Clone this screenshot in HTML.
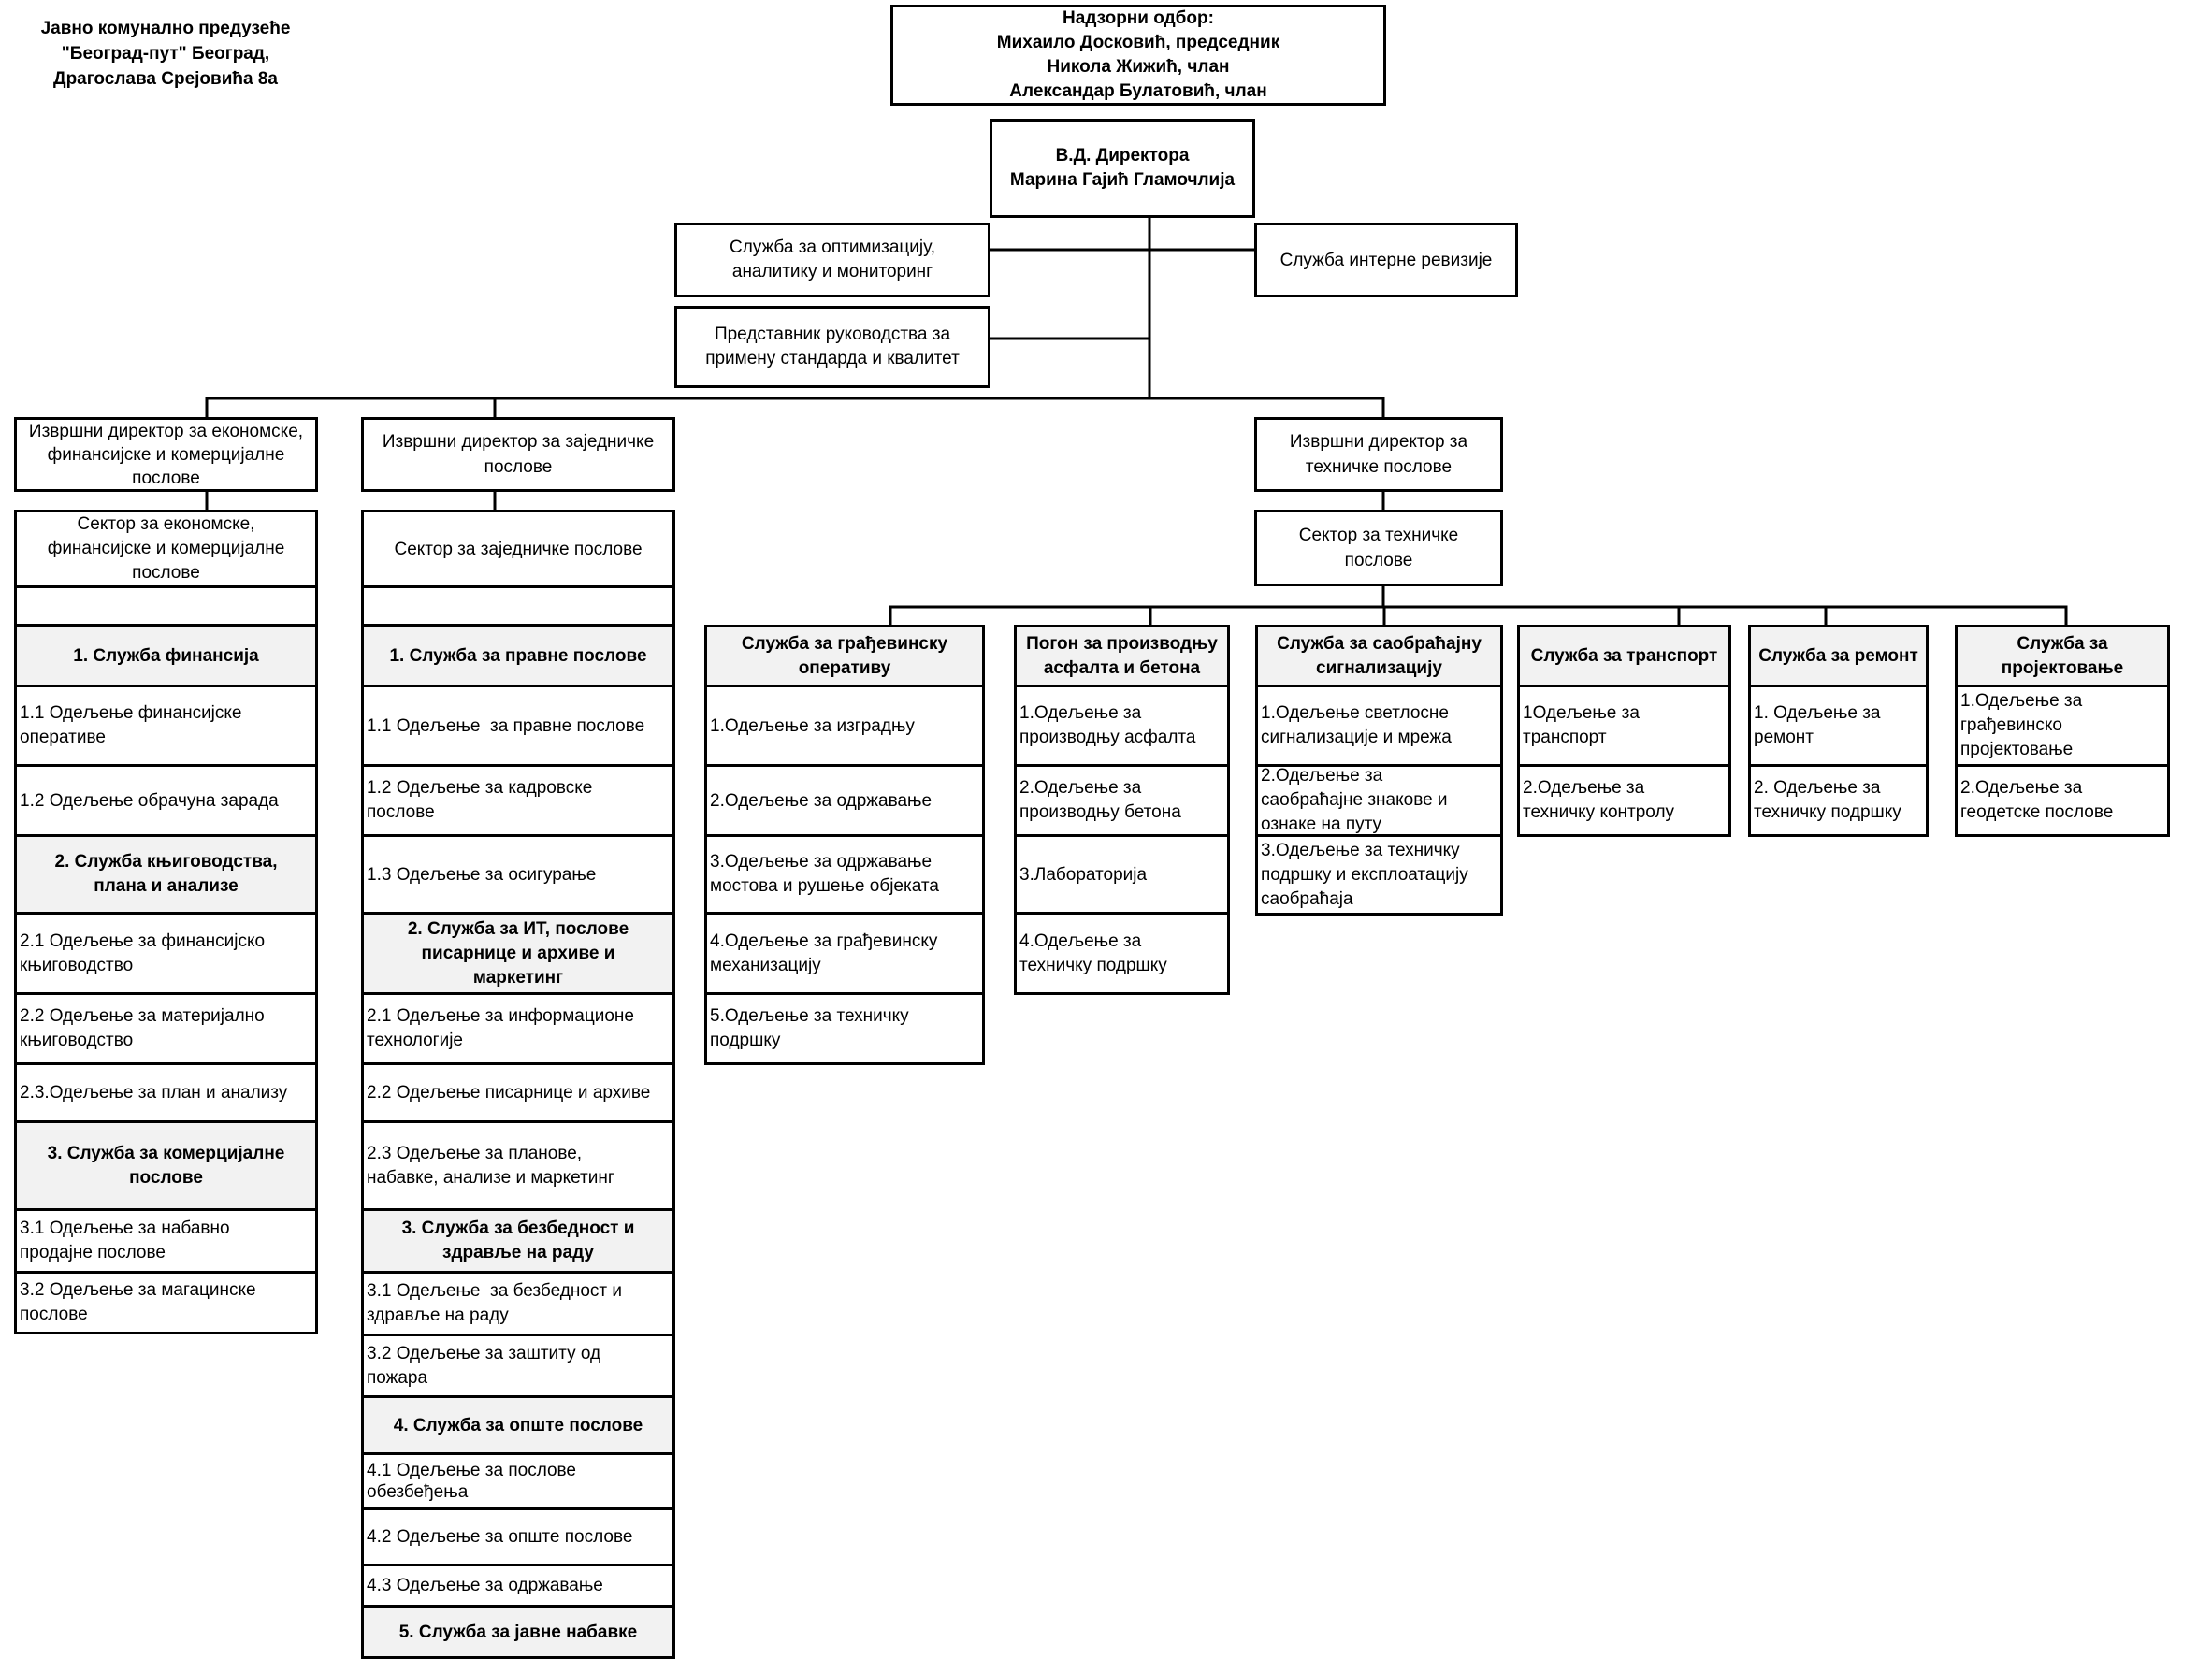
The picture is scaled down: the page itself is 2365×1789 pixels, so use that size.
<!DOCTYPE html>
<html><head><meta charset="utf-8">
<style>
html,body{margin:0;padding:0;background:#fff;}
body{width:2365px;height:1789px;position:relative;overflow:hidden;font-family:"Liberation Sans",Arial,sans-serif;color:#000;}
.b{position:absolute;box-sizing:border-box;border:3px solid #000;display:flex;align-items:center;justify-content:center;text-align:center;font-size:19px;line-height:25px;background:#fff;overflow:visible;}
.l{justify-content:flex-start;text-align:left;padding-left:3px;}
.g{background:#f2f2f2;font-weight:bold;}
.bold{font-weight:bold;}
.t{position:absolute;font-weight:bold;font-size:19px;line-height:27px;text-align:center;}
svg{position:absolute;left:0;top:0;}
</style></head><body>
<svg width="2365" height="1789"><g stroke="#000" stroke-width="3" fill="none">
<path d="M1229 232V426M1058 267H1341M1058 362H1229M219.5 426H1480.5"/>
<path d="M221 426V446M529 426V446M1479 426V446M221 525V545M529 525V545M1479 525V545M1479 626V649"/>
<path d="M950.5 649H2210.5M952 649V668M1230 649V668M1480 649V668M1795 649V668M1952 649V668M2209 649V668"/>
</g></svg>

<div class="t" style="left:27px;top:17px;width:300px;">Јавно комунално предузеће<br>"Београд-пут" Београд,<br>Драгослава Срејовића 8а</div>

<div class="b bold" style="left:952px;top:5px;width:530px;height:108px;line-height:26px;">Надзорни одбор:<br>Михаило Досковић, председник<br>Никола Жижић, члан<br>Александар Булатовић, члан</div>
<div class="b bold" style="left:1058px;top:127px;width:284px;height:106px;line-height:26px;">В.Д. Директора<br>Марина Гајић Гламочлија</div>
<div class="b" style="left:721px;top:238px;width:338px;height:80px;line-height:26px;">Служба за оптимизацију,<br>аналитику и мониторинг</div>
<div class="b" style="left:1341px;top:238px;width:282px;height:80px;">Служба интерне ревизије</div>
<div class="b" style="left:721px;top:327px;width:338px;height:88px;line-height:26px;">Представник руководства за<br>примену стандарда и квалитет</div>

<div class="b" style="left:15px;top:446px;width:325px;height:80px;">Извршни директор за економске,<br>финансијске и комерцијалне<br>послове</div>
<div class="b" style="left:386px;top:446px;width:336px;height:80px;line-height:27px;">Извршни директор за заједничке<br>послове</div>
<div class="b" style="left:1341px;top:446px;width:266px;height:80px;line-height:27px;">Извршни директор за<br>техничке послове</div>

<!-- Ec column -->
<div class="b" style="left:15px;top:545px;width:325px;height:84px;line-height:26px;">Сектор за економске,<br>финансијске и комерцијалне<br>послове</div>
<div class="b" style="left:15px;top:626px;width:325px;height:44px;"></div>
<div class="b g" style="left:15px;top:667px;width:325px;height:68px;">1. Служба финансија</div>
<div class="b l" style="left:15px;top:732px;width:325px;height:88px;line-height:26px;">1.1 Одељење финансијске<br>оперативе</div>
<div class="b l" style="left:15px;top:817px;width:325px;height:78px;">1.2 Одељење обрачуна зарада</div>
<div class="b g" style="left:15px;top:892px;width:325px;height:86px;line-height:26px;">2. Служба књиговодства,<br>плана и анализе</div>
<div class="b l" style="left:15px;top:975px;width:325px;height:89px;line-height:26px;">2.1 Одељење за финансијско<br>књиговодство</div>
<div class="b l" style="left:15px;top:1061px;width:325px;height:78px;line-height:26px;">2.2 Одељење за материјално<br>књиговодство</div>
<div class="b l" style="left:15px;top:1136px;width:325px;height:65px;">2.3.Одељење за план и анализу</div>
<div class="b g" style="left:15px;top:1198px;width:325px;height:97px;line-height:26px;">3. Служба за комерцијалне<br>послове</div>
<div class="b l" style="left:15px;top:1292px;width:325px;height:70px;line-height:26px;">3.1 Одељење за набавно<br>продајне послове</div>
<div class="b l" style="left:15px;top:1359px;width:325px;height:68px;line-height:26px;">3.2 Одељење за магацинске<br>послове</div>

<!-- Zaj column -->
<div class="b" style="left:386px;top:545px;width:336px;height:84px;">Сектор за заједничке послове</div>
<div class="b" style="left:386px;top:626px;width:336px;height:44px;"></div>
<div class="b g" style="left:386px;top:667px;width:336px;height:68px;">1. Служба за правне послове</div>
<div class="b l" style="left:386px;top:732px;width:336px;height:88px;">1.1 Одељење &nbsp;за правне послове</div>
<div class="b l" style="left:386px;top:817px;width:336px;height:78px;line-height:26px;">1.2 Одељење за кадровске<br>послове</div>
<div class="b l" style="left:386px;top:892px;width:336px;height:86px;">1.3 Одељење за осигурање</div>
<div class="b g" style="left:386px;top:975px;width:336px;height:89px;line-height:26px;">2. Служба за ИТ, послове<br>писарнице и архиве и<br>маркетинг</div>
<div class="b l" style="left:386px;top:1061px;width:336px;height:78px;line-height:26px;">2.1 Одељење за информационе<br>технологије</div>
<div class="b l" style="left:386px;top:1136px;width:336px;height:65px;">2.2 Одељење писарнице и архиве</div>
<div class="b l" style="left:386px;top:1198px;width:336px;height:97px;line-height:26px;">2.3 Одељење за планове,<br>набавке, анализе и маркетинг</div>
<div class="b g" style="left:386px;top:1292px;width:336px;height:70px;line-height:26px;">3. Служба за безбедност и<br>здравље на раду</div>
<div class="b l" style="left:386px;top:1359px;width:336px;height:70px;line-height:26px;">3.1 Одељење &nbsp;за безбедност и<br>здравље на раду</div>
<div class="b l" style="left:386px;top:1426px;width:336px;height:69px;line-height:26px;">3.2 Одељење за заштиту од<br>пожара</div>
<div class="b g" style="left:386px;top:1492px;width:336px;height:64px;">4. Служба за опште послове</div>
<div class="b l" style="left:386px;top:1553px;width:336px;height:62px;line-height:23px;">4.1 Одељење за послове<br>обезбеђења</div>
<div class="b l" style="left:386px;top:1612px;width:336px;height:63px;">4.2 Одељење за опште послове</div>
<div class="b l" style="left:386px;top:1672px;width:336px;height:47px;">4.3 Одељење за одржавање</div>
<div class="b g" style="left:386px;top:1716px;width:336px;height:58px;">5. Служба за јавне набавке</div>

<!-- Tech sector -->
<div class="b" style="left:1341px;top:545px;width:266px;height:82px;line-height:27px;">Сектор за техничке<br>послове</div>

<!-- Grad -->
<div class="b g" style="left:753px;top:668px;width:300px;height:67px;line-height:26px;">Служба за грађевинску<br>оперативу</div>
<div class="b l" style="left:753px;top:732px;width:300px;height:88px;">1.Одељење за изградњу</div>
<div class="b l" style="left:753px;top:817px;width:300px;height:78px;">2.Одељење за одржавање</div>
<div class="b l" style="left:753px;top:892px;width:300px;height:86px;line-height:26px;">3.Одељење за одржавање<br>мостова и рушење објеката</div>
<div class="b l" style="left:753px;top:975px;width:300px;height:89px;line-height:26px;">4.Одељење за грађевинску<br>механизацију</div>
<div class="b l" style="left:753px;top:1061px;width:300px;height:78px;line-height:26px;">5.Одељење за техничку<br>подршку</div>

<!-- Pogon -->
<div class="b g" style="left:1084px;top:668px;width:231px;height:67px;line-height:26px;">Погон за производњу<br>асфалта и бетона</div>
<div class="b l" style="left:1084px;top:732px;width:231px;height:88px;line-height:26px;">1.Одељење за<br>производњу асфалта</div>
<div class="b l" style="left:1084px;top:817px;width:231px;height:78px;line-height:26px;">2.Одељење за<br>производњу бетона</div>
<div class="b l" style="left:1084px;top:892px;width:231px;height:86px;">3.Лабораторија</div>
<div class="b l" style="left:1084px;top:975px;width:231px;height:89px;line-height:26px;">4.Одељење за<br>техничку подршку</div>

<!-- Saob -->
<div class="b g" style="left:1342px;top:668px;width:265px;height:67px;line-height:26px;">Служба за саобраћајну<br>сигнализацију</div>
<div class="b l" style="left:1342px;top:732px;width:265px;height:88px;line-height:26px;">1.Одељење светлосне<br>сигнализације и мрежа</div>
<div class="b l" style="left:1342px;top:817px;width:265px;height:78px;line-height:26px;">2.Одељење за<br>саобраћајне знакове и<br>ознаке на путу</div>
<div class="b l" style="left:1342px;top:892px;width:265px;height:87px;line-height:26px;">3.Одељење за техничку<br>подршку и експлоатацију<br>саобраћаја</div>

<!-- Trans -->
<div class="b g" style="left:1622px;top:668px;width:229px;height:67px;">Служба за транспорт</div>
<div class="b l" style="left:1622px;top:732px;width:229px;height:88px;line-height:26px;">1Одељење за<br>транспорт</div>
<div class="b l" style="left:1622px;top:817px;width:229px;height:78px;line-height:26px;">2.Одељење за<br>техничку контролу</div>

<!-- Remont -->
<div class="b g" style="left:1869px;top:668px;width:193px;height:67px;">Служба за ремонт</div>
<div class="b l" style="left:1869px;top:732px;width:193px;height:88px;line-height:26px;">1. Одељење за<br>ремонт</div>
<div class="b l" style="left:1869px;top:817px;width:193px;height:78px;line-height:26px;">2. Одељење за<br>техничку подршку</div>

<!-- Proj -->
<div class="b g" style="left:2090px;top:668px;width:230px;height:67px;line-height:26px;">Служба за<br>пројектовање</div>
<div class="b l" style="left:2090px;top:732px;width:230px;height:88px;line-height:26px;">1.Одељење за<br>грађевинско<br>пројектовање</div>
<div class="b l" style="left:2090px;top:817px;width:230px;height:78px;line-height:26px;">2.Одељење за<br>геодетске послове</div>
</body></html>
